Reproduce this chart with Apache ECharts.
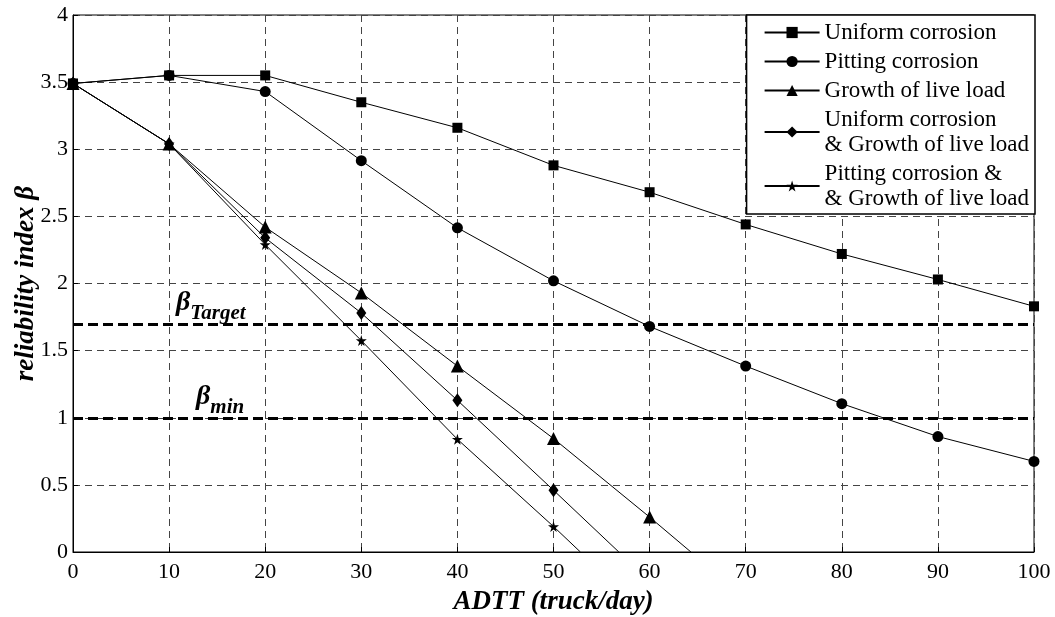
<!DOCTYPE html>
<html>
<head>
<meta charset="utf-8">
<script src="https://cdn.jsdelivr.net/npm/echarts@6/dist/echarts.min.js"></script>
<style>
  html, body { margin: 0; padding: 0; background: #fff; }
  #chart { width: 1055px; height: 617px; }
</style>
</head>
<body>
<div id="chart"></div>
<script>
// ---------------------------------------------------------------------------
// Reliability index vs ADTT - five degradation scenarios
// ---------------------------------------------------------------------------
const adtt = [0, 10, 20, 30, 40, 50, 60, 70, 80, 90, 100];

const uniformCorrosion = [3.49, 3.55, 3.55, 3.35, 3.16, 2.88, 2.68, 2.44, 2.22, 2.03, 1.83];
const pittingCorrosion = [3.49, 3.55, 3.43, 2.915, 2.415, 2.02, 1.68, 1.385, 1.105, 0.86, 0.675];
const liveLoadGrowth = [3.49, 3.04, 2.42, 1.93, 1.385, 0.845, 0.26];
const uniformAndLoad = [3.49, 3.04, 2.34, 1.78, 1.13, 0.46];
const pittingAndLoad = [3.49, 3.04, 2.29, 1.575, 0.84, 0.19];

// where the three falling curves meet beta = 0 (no marker drawn there)
const zeroCrossing = { liveLoadGrowth: 64.3, uniformAndLoad: 56.8, pittingAndLoad: 52.8 };

const betaTarget = 1.7;
const betaMin = 1.0;

const seriesNames = [
  "Uniform corrosion",
  "Pitting corrosion",
  "Growth of live load",
  "Uniform corrosion\n& Growth of live load",
  "Pitting corrosion &\n& Growth of live load"
];

const FONT = "Liberation Serif";
const STAR = "path://M50,0 L61,35 L98,35 L68,57 L79,91 L50,70 L21,91 L32,57 L2,35 L39,35 Z";

function toPoints(values, endX) {
  const pts = values.map((v, i) => [adtt[i], v]);
  if (endX != null) pts.push({ value: [endX, 0], symbol: "none" });
  return pts;
}

function lineSeries(name, data, symbol, size, extra) {
  return Object.assign({
    name,
    type: "line",
    data,
    symbol,
    symbolSize: size,
    showAllSymbol: true,
    lineStyle: { color: "#000", width: 1 },
    itemStyle: { color: "#000" },
    emphasis: { disabled: true },
    animation: false
  }, extra || {});
}

const chart = echarts.init(document.getElementById("chart"));

const axisCommon = {
  axisLine: { show: true, onZero: false, lineStyle: { color: "#000", width: 1 } },
  axisTick: { show: true, inside: true, length: 5, lineStyle: { color: "#000" } },
  splitLine: { show: true, lineStyle: { color: "#444", width: 1, type: [7, 5] } },
  nameMoveOverlap: false,
  nameTextStyle: { fontFamily: FONT, fontSize: 27, fontWeight: "bold", fontStyle: "italic", color: "#000" }
};

const betaRich = {
  b: { fontFamily: FONT, fontSize: 28, fontWeight: "bold", fontStyle: "italic", color: "#000", verticalAlign: "bottom", lineHeight: 30, padding: [0, 0, 7, 0] },
  s: { fontFamily: FONT, fontSize: 21, fontWeight: "bold", fontStyle: "italic", color: "#000", verticalAlign: "bottom", lineHeight: 24 }
};

chart.setOption({
  backgroundColor: "#fff",
  animation: false,
  grid: { left: 73, right: 21, top: 15, bottom: 65, show: true, borderColor: "#000", borderWidth: 1, containLabel: false, outerBoundsMode: "none" },
  legend: {
    right: 20,
    top: 15,
    orient: "vertical",
    data: seriesNames,
    itemWidth: 55,
    itemHeight: 14,
    itemGap: 4,
    padding: [5, 6, 3, 17],
    backgroundColor: "#fff",
    borderColor: "#000",
    borderWidth: 1.5,
    borderRadius: 0,
    textStyle: { fontFamily: FONT, fontSize: 23, lineHeight: 25, color: "#000" },
    selectedMode: false
  },
  xAxis: Object.assign({}, axisCommon, {
    type: "value",
    min: 0,
    max: 100,
    interval: 10,
    name: "ADTT (truck/day)",
    nameLocation: "middle",
    nameGap: 37,
    axisLabel: { fontFamily: FONT, fontSize: 22, color: "#000", margin: 9 }
  }),
  yAxis: Object.assign({}, axisCommon, {
    type: "value",
    min: 0,
    max: 4,
    interval: 0.5,
    name: "reliability index β",
    nameLocation: "middle",
    nameGap: 33,
    axisLabel: { fontFamily: FONT, fontSize: 22, color: "#000", margin: 5 }
  }),
  series: [
    lineSeries(seriesNames[0], toPoints(uniformCorrosion), "rect", 10, {
      z: 3,
      markLine: {
        silent: true,
        symbol: ["none", "none"],
        lineStyle: { color: "#000", width: 3, type: [10, 5] },
        label: { position: "insideStartTop", distance: 0, color: "#000", rich: betaRich },
        data: [
          { yAxis: betaTarget, label: { formatter: "{b|β}{s|Target}", padding: [0, 0, 0, 103] } },
          { yAxis: betaMin, label: { formatter: "{b|β}{s|min}", padding: [0, 0, 0, 123] } }
        ]
      }
    }),
    lineSeries(seriesNames[1], toPoints(pittingCorrosion), "circle", 11, { z: 2 }),
    lineSeries(seriesNames[2], toPoints(liveLoadGrowth, zeroCrossing.liveLoadGrowth), "triangle", 13),
    lineSeries(seriesNames[3], toPoints(uniformAndLoad, zeroCrossing.uniformAndLoad), "diamond", [10, 14]),
    lineSeries(seriesNames[4], toPoints(pittingAndLoad, zeroCrossing.pittingAndLoad), STAR, 11)
  ]
});
</script>
</body>
</html>
